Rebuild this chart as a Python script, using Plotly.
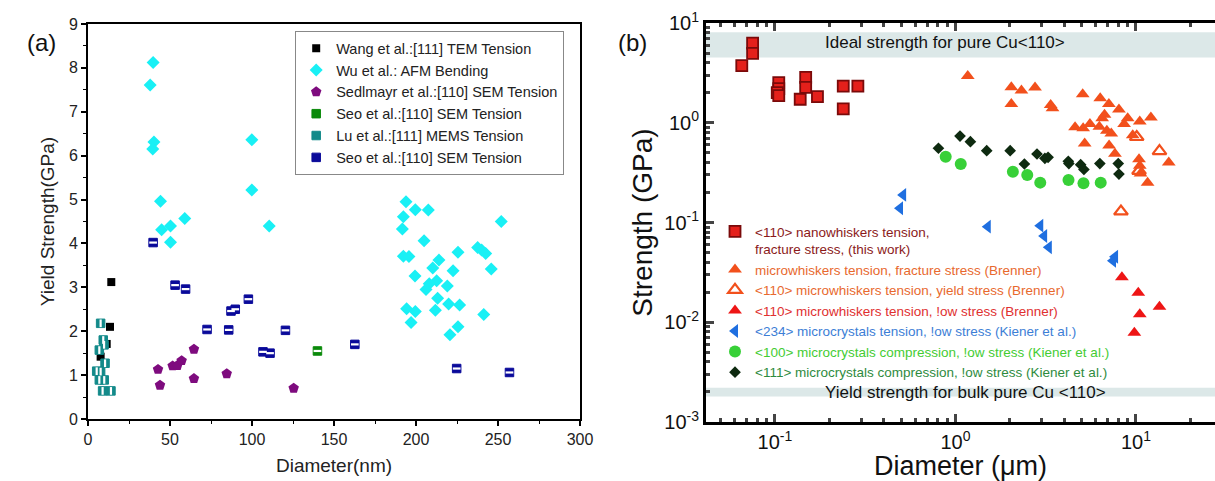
import plotly.graph_objects as go

# ---------------- Panel (a) data ----------------
wang_x = [7.7, 11.4, 13.4, 14.2]
wang_y = [1.42, 1.71, 2.10, 3.12]

wu_x = [39.7, 37.9, 40.2, 39.5, 44.2, 44.9, 50.3, 50.3, 59.0, 99.9, 99.9, 110.5,
        193.9, 199.6, 207.5, 192.3, 191.7, 252.0, 204.9, 192.3, 195.7, 225.6, 237.6,
        240.0, 242.5, 214.0, 210.2, 222.6, 245.9, 199.4, 212.6, 208.1, 206.1, 219.1,
        213.2, 194.3, 199.6, 211.8, 219.9, 226.6, 241.3, 197.0, 225.6, 220.7]
wu_y = [8.12, 7.61, 6.31, 6.15, 4.96, 4.31, 4.40, 4.03, 4.57, 6.36, 5.22, 4.40,
        4.95, 4.77, 4.76, 4.61, 4.33, 4.50, 4.06, 3.71, 3.70, 3.80, 3.91,
        3.85, 3.77, 3.62, 3.44, 3.38, 3.42, 3.26, 3.15, 3.08, 2.95, 3.03,
        2.75, 2.51, 2.45, 2.48, 2.62, 2.60, 2.38, 2.20, 2.10, 1.92]

sed_x = [42.7, 43.9, 51.6, 54.5, 57.1, 64.6, 64.6, 84.6, 125.4]
sed_y = [1.13, 0.77, 1.21, 1.22, 1.33, 1.59, 0.92, 1.03, 0.70]

seo_green_x = [139.9]
seo_green_y = [1.55]

lu_x = [7.7, 9.3, 9.8, 6.9, 10.4, 7.7, 6.9, 9.9, 8.9, 14.0, 5.3]
lu_y = [2.18, 1.80, 1.69, 1.57, 1.27, 1.08, 0.89, 0.89, 0.64, 0.64, 1.09]

seo_blue_x = [39.7, 53.1, 59.5, 87.2, 89.8, 97.8, 72.6, 85.8, 120.4, 106.7, 111.0, 162.7, 224.8, 257.0]
seo_blue_y = [4.02, 3.05, 2.96, 2.46, 2.50, 2.73, 2.04, 2.03, 2.02, 1.53, 1.50, 1.70, 1.15, 1.06]

names_a = ["Wang et al.:[111] TEM Tension", "Wu et al.: AFM Bending",
           "Sedlmayr et al.:[110] SEM Tension", "Seo et al.:[110] SEM Tension",
           "Lu et al.:[111] MEMS Tension", "Seo et al.:[110] SEM Tension"]

xticks_a = [0, 50, 100, 150, 200, 250, 300]
yticks_a = [0, 1, 2, 3, 4, 5, 6, 7, 8, 9]

# ---------------- Panel (b) data ----------------
nw_x = [0.0752, 0.0752, 0.0655, 0.105, 0.105, 0.103, 0.105, 0.138, 0.148, 0.148, 0.172, 0.239, 0.239, 0.288]
nw_y = [6.27, 4.97, 3.73, 2.52, 2.20, 2.00, 1.87, 1.72, 2.85, 2.26, 1.83, 2.33, 1.38, 2.33]

mwf_x = [1.17, 2.04, 2.32, 2.76, 2.04, 3.37, 3.45, 5.07, 6.34, 7.08, 8.05, 9.0, 10.5, 12.1,
         4.6, 5.1, 5.56, 6.5, 6.7, 6.27, 6.9, 7.3, 8.6, 9.6, 5.2, 7.1, 7.65, 10.4, 10.5, 10.6, 11.6, 15.2]
mwf_y = [2.94, 2.27, 2.10, 2.26, 1.54, 1.51, 1.40, 1.93, 1.76, 1.54, 1.36, 1.11, 1.03, 1.13,
         0.90, 0.88, 0.97, 1.11, 1.20, 0.91, 0.83, 0.78, 0.97, 0.75, 0.62, 0.59, 0.49, 0.43, 0.37, 0.31, 0.25, 0.40]

mwy_x = [13.5, 8.26, 10.1, 10.4]
mwy_y = [0.52, 0.129, 0.72, 0.33]

mwl_x = [8.36, 10.3, 13.5, 10.5, 9.8]
mwl_y = [0.0282, 0.0198, 0.0143, 0.0120, 0.00785]

mc234_x = [0.513, 0.493, 1.51, 2.95, 3.10, 3.29, 7.66, 7.46]
mc234_y = [0.189, 0.139, 0.0908, 0.0929, 0.0733, 0.0564, 0.0454, 0.0414]

mc100_x = [0.883, 1.07, 2.08, 2.50, 2.95, 4.23, 5.12, 6.38]
mc100_y = [0.457, 0.386, 0.323, 0.299, 0.251, 0.267, 0.247, 0.251]

mc111_x = [0.805, 1.06, 1.21, 1.49, 2.01, 2.41, 2.83, 3.13, 3.26, 4.22, 4.25, 4.94, 5.15, 6.31, 7.98, 8.05]
mc111_y = [0.555, 0.736, 0.646, 0.525, 0.525, 0.386, 0.486, 0.44, 0.45, 0.41, 0.39, 0.38, 0.34, 0.39, 0.39, 0.306]

ideal_band = [4.5, 8.1]
bulk_band = [0.0018, 0.0022]

xticks_b = [0.1, 1, 10]
xticktext_b = ["10<sup>-1</sup>", "10<sup>0</sup>", "10<sup>1</sup>"]
yticks_b = [0.001, 0.01, 0.1, 1, 10]
yticktext_b = ["10<sup>-3</sup>", "10<sup>-2</sup>", "10<sup>-1</sup>", "10<sup>0</sup>", "10<sup>1</sup>"]

names_b = [
    '<span style="color:#8B1A1A">&lt;110&gt; nanowhiskers tension,<br>fracture stress, (this work)</span>',
    '<span style="color:#E8692E">microwhiskers tension, fracture stress (Brenner)</span>',
    '<span style="color:#E8692E">&lt;110&gt; microwhiskers tension, yield stress (Brenner)</span>',
    '<span style="color:#E03030">&lt;110&gt; microwhiskers tension, !ow stress (Brenner)</span>',
    '<span style="color:#3C7ED6">&lt;234&gt; microcrystals tension, !ow stress (Kiener et al.)</span>',
    '<span style="color:#44CC33">&lt;100&gt; microcrystals compression, !ow stress (Kiener et al.)</span>',
    '<span style="color:#2E8B3E">&lt;111&gt; microcrystals compression, !ow stress (Kiener et al.)</span>',
]

FONT = "Arial, Liberation Sans, sans-serif"
fig = go.Figure()

# ---------- panel (a) traces ----------
def half_square(xs, ys, color, name, stripe, size=8.5):
    fig.add_trace(go.Scatter(x=xs, y=ys, mode="markers", name=name, legend="legend",
                             marker=dict(symbol="square", size=size, color=color,
                                         line=dict(color=color, width=1)),
                             xaxis="x", yaxis="y"))
    fig.add_trace(go.Scatter(x=xs, y=ys, mode="markers", showlegend=False, hoverinfo="skip",
                             marker=dict(symbol=stripe, size=size - 3,
                                         line=dict(color="white", width=2.2)),
                             xaxis="x", yaxis="y"))

fig.add_trace(go.Scatter(x=wang_x, y=wang_y, mode="markers", name=names_a[0], legend="legend",
                         marker=dict(symbol="square", size=8, color="black"), xaxis="x", yaxis="y"))
fig.add_trace(go.Scatter(x=wu_x, y=wu_y, mode="markers", name=names_a[1], legend="legend",
                         marker=dict(symbol="diamond", size=10, color="#19F0F5"), xaxis="x", yaxis="y"))
fig.add_trace(go.Scatter(x=sed_x, y=sed_y, mode="markers", name=names_a[2], legend="legend",
                         marker=dict(symbol="pentagon", size=11, color="#7E0B7E"), xaxis="x", yaxis="y"))
half_square(seo_green_x, seo_green_y, "#0A8A0A", names_a[3], "line-ew")
half_square(lu_x, lu_y, "#138A8A", names_a[4], "line-ns")
half_square(seo_blue_x, seo_blue_y, "#0A0A9A", names_a[5], "line-ew")

# ---------- panel (b) traces ----------
def tb(xs, ys, name, marker):
    fig.add_trace(go.Scatter(x=xs, y=ys, mode="markers", name=name, legend="legend2",
                             marker=marker, xaxis="x2", yaxis="y2"))

tb(nw_x, nw_y, names_b[0], dict(symbol="square", size=11, color="#E4201B", line=dict(color="#7A0A0A", width=1.8)))
tb(mwf_x, mwf_y, names_b[1], dict(symbol="triangle-up", size=12, color="#F2501C"))
tb(mwy_x, mwy_y, names_b[2], dict(symbol="triangle-up-open", size=12, color="#F2501C", line=dict(width=2.2)))
tb(mwl_x, mwl_y, names_b[3], dict(symbol="triangle-up", size=12, color="#EE1515"))
tb(mc234_x, mc234_y, names_b[4], dict(symbol="triangle-left", size=12, color="#1F6FE0"))
tb(mc100_x, mc100_y, names_b[5], dict(symbol="circle", size=12, color="#38D038"))
tb(mc111_x, mc111_y, names_b[6], dict(symbol="diamond", size=9, color="#0E2A10"))

# ---------- layout ----------
axis_common = dict(showgrid=False, zeroline=False, linecolor="black", color="black",
                   tickfont=dict(family=FONT, size=16, color="#222"), automargin=False)

fig.update_layout(
    width=1215, height=481, margin=dict(l=0, r=0, t=0, b=0),
    paper_bgcolor="white", plot_bgcolor="white",
    font=dict(family=FONT, color="black"),
    xaxis=dict(domain=[88 / 1215, 580 / 1215], range=[0, 300], tickmode="array", tickvals=xticks_a,
               ticks="outside", ticklen=5, tickwidth=1.5, showline=True, linewidth=1.6, mirror=True,
               minor=dict(dtick=25, tick0=0, ticks="outside", ticklen=3, tickwidth=1.2),
               title=dict(text="Diameter(nm)", font=dict(family=FONT, size=19, color="#222"), standoff=12),
               anchor="y", **axis_common),
    yaxis=dict(domain=[62 / 481, 457 / 481], range=[0, 9], tickmode="array", tickvals=yticks_a,
               ticks="outside", ticklen=5, tickwidth=1.5, showline=True, linewidth=1.6, mirror=True,
               minor=dict(dtick=0.5, tick0=0, ticks="outside", ticklen=3, tickwidth=1.2),
               title=dict(text="Yield Strength(GPa)", font=dict(family=FONT, size=19, color="#222"), standoff=9),
               anchor="x", **axis_common),
    xaxis2=dict(domain=[706 / 1215, 1.0], type="log", range=[-1.382, 1.438],
                tickmode="array", tickvals=xticks_b, ticktext=xticktext_b,
                ticks="inside", ticklen=8, tickwidth=2.5, showline=True, linewidth=3, mirror="ticks",
                minor=dict(ticks="inside", ticklen=4, tickwidth=2.5, dtick="D1"),
                title=dict(text="Diameter (μm)", font=dict(family=FONT, size=27, color="#111"), standoff=11),
                anchor="y2", showgrid=False, zeroline=False, linecolor="black",
                tickfont=dict(family=FONT, size=20, color="#111"), automargin=False),
    yaxis2=dict(domain=[59 / 481, 458 / 481], type="log", range=[-3, 1],
                tickmode="array", tickvals=yticks_b, ticktext=yticktext_b,
                ticks="inside", ticklen=8, tickwidth=2.5, showline=True, linewidth=3, mirror=False,
                minor=dict(ticks="inside", ticklen=4, tickwidth=2.5, dtick="D1"),
                title=dict(text="Strength (GPa)", font=dict(family=FONT, size=28, color="#111"), standoff=4),
                anchor="x2", showgrid=False, zeroline=False, linecolor="black",
                tickfont=dict(family=FONT, size=20, color="#111"), automargin=False),
    legend=dict(x=295 / 1215, y=450 / 481, xanchor="left", yanchor="top",
                bordercolor="#888", borderwidth=1.2, bgcolor="white",
                font=dict(family=FONT, size=14.5, color="#222"), tracegroupgap=0),
    legend2=dict(x=715 / 1215, y=265 / 481, xanchor="left", yanchor="top",
                 bgcolor="rgba(0,0,0,0)", borderwidth=0, itemwidth=30, valign="top",
                 font=dict(family=FONT, size=13.5), tracegroupgap=0),
    shapes=[
        dict(type="rect", xref="x2 domain", yref="y2", x0=0, x1=1, y0=ideal_band[0], y1=ideal_band[1],
             fillcolor="#DCE8E8", line=dict(width=0), layer="below"),
        dict(type="rect", xref="x2 domain", yref="y2", x0=0, x1=1, y0=bulk_band[0], y1=bulk_band[1],
             fillcolor="#DCE8E8", line=dict(width=0), layer="below"),
    ],
    annotations=[
        dict(text="(a)", x=25 / 1215, y=(481 - 27) / 481, xref="paper", yref="paper",
             showarrow=False, font=dict(family=FONT, size=24, color="#111")),
        dict(text="(b)", x=632 / 1215, y=(481 - 27) / 481, xref="paper", yref="paper",
             showarrow=False, font=dict(family=FONT, size=24, color="#111")),
        dict(text="Ideal strength for pure Cu&lt;110&gt;", x=-0.058, y=0.80, xref="x2", yref="y2",
             showarrow=False, font=dict(family=FONT, size=17, color="#111")),
        dict(text="Yield strength for bulk pure Cu &lt;110&gt;", x=0.053, y=-2.70, xref="x2", yref="y2",
             showarrow=False, font=dict(family=FONT, size=17, color="#111")),
    ],
)

fig.write_html("out.html")
